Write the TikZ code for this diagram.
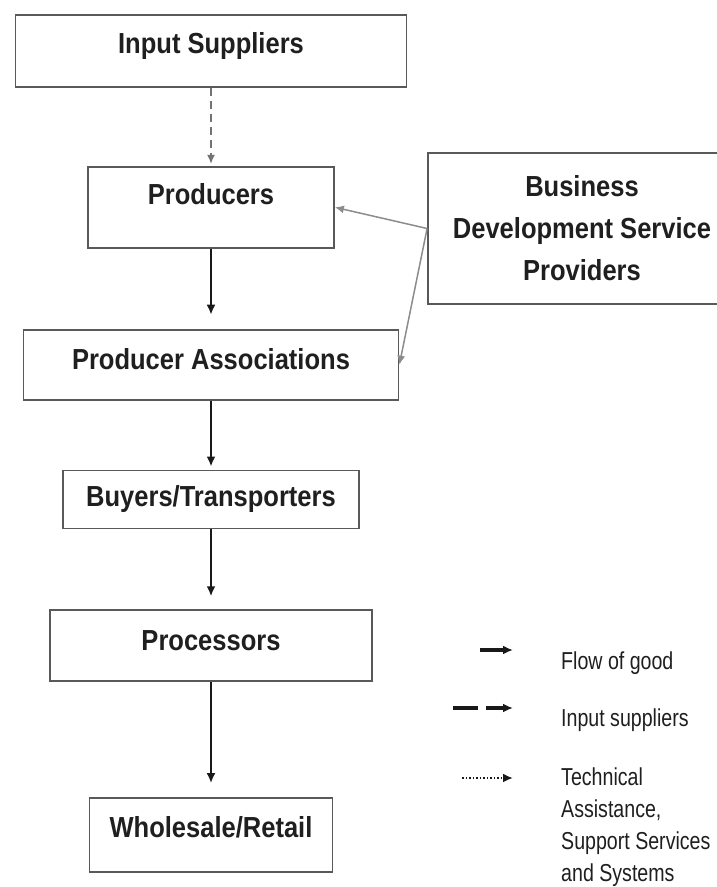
\documentclass[tikz,border=0pt]{standalone}
\usepackage{fontspec}
\setmainfont{Liberation Sans}
\newfontfamily\boxfont[FakeStretch=0.88]{Liberation Sans}
\newfontfamily\legendfont[FakeStretch=0.8]{Liberation Sans}
\usetikzlibrary{arrows.meta,positioning}

\begin{document}
\begin{tikzpicture}[
  x=1pt,y=-1pt,
  box/.style={draw=black!65,line width=1.8pt,rectangle,inner sep=0pt,align=center,
    font=\boxfont\bfseries\fontsize{29}{42}\selectfont,text=black!88},
  flow/.style={-{Latex[length=10pt,width=9pt]},line width=2.8pt,black!90},
  input/.style={-{Latex[length=9pt,width=8pt]},line width=1.5pt,black!55,dash pattern=on 8pt off 5pt},
  support/.style={-{Latex[length=9pt,width=8pt]},line width=1.5pt,black!45},
  legtext/.style={anchor=west,align=left,inner sep=0pt,text=black!88,
    font=\legendfont\fontsize{24.5}{31.7}\selectfont}
]
\useasboundingbox (0,0) rectangle (717,887);

\node[box,minimum width=391pt,minimum height=72pt,text depth=17pt] (is) at (211,51) {Input Suppliers};
\node[box,minimum width=246pt,minimum height=81pt,text depth=26pt,below=78pt of is] (prod) {Producers};
\node[box,minimum width=375pt,minimum height=70pt,text depth=12pt,below=80pt of prod] (pa) {Producer Associations};
\node[box,minimum width=296pt,minimum height=58pt,below=69pt of pa] (bt) {Buyers/Transporters};
\node[box,minimum width=322pt,minimum height=71pt,text depth=11pt,below=80pt of bt] (proc) {Processors};
\node[box,minimum width=243pt,minimum height=74pt,text depth=16pt,below=115pt of proc] (wr) {Wholesale/Retail};
\node[box,minimum width=308pt,minimum height=151pt] (bds) at (582,228.5) {Business\\Development Service\\Providers};

\draw[input,shorten >=2pt] (is) -- (prod);
\draw[flow,shorten >=14pt] (prod) -- (pa);
\draw[flow,shorten >=3pt] (pa) -- (bt);
\draw[flow,shorten >=13pt] (bt) -- (proc);
\draw[flow,shorten >=14pt] (proc) -- (wr);
\draw[support] (bds.west) -- (prod.east);
\draw[support] (bds.west) -- (pa.east);

\node[legtext] (lflow) at (561,663) {Flow of good};
\node[legtext] (linput) at (561,720) {Input suppliers};
\node[legtext,anchor=north west] (ltech) at (561,768) {Technical\\Assistance,\\Support Services\\and Systems};
\coordinate (fa) at (480,650); \coordinate (fb) at (513,650);
\coordinate (ia) at (453,708); \coordinate (ib) at (513,708);
\coordinate (ta) at (462,778); \coordinate (tb) at (513,778);
\draw[flow,line width=3.2pt] (fa) -- (fb);
\draw[flow,line width=3.2pt,dash pattern=on 25pt off 8pt] (ia) -- (ib);
\draw[flow,line width=2pt,dash pattern=on 1.5pt off 2pt] (ta) -- (tb);
\end{tikzpicture}
\end{document}
